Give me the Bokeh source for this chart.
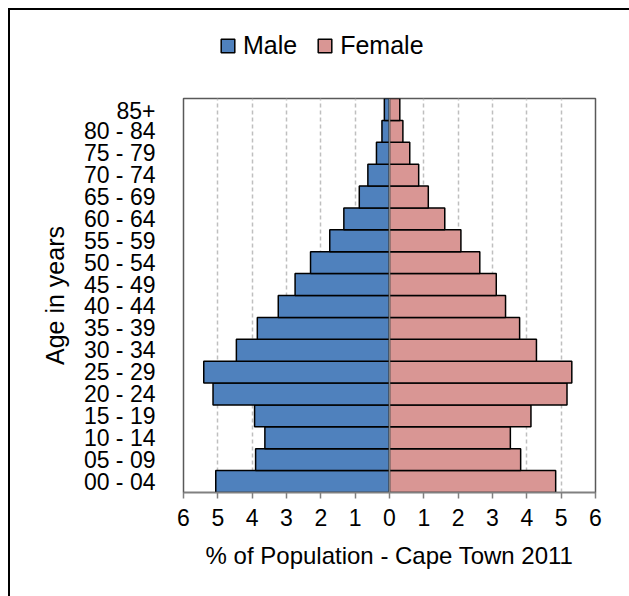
from bokeh.plotting import figure
from bokeh.layouts import column
from bokeh.models import (FactorRange, FixedTicker, CustomJSTickFormatter, Legend,
                          LegendItem, Span, ColumnDataSource)
from bokeh.embed import file_html
from bokeh.resources import INLINE

age_groups = ["00 - 04", "05 - 09", "10 - 14", "15 - 19", "20 - 24", "25 - 29",
              "30 - 34", "35 - 39", "40 - 44", "45 - 49", "50 - 54", "55 - 59",
              "60 - 64", "65 - 69", "70 - 74", "75 - 79", "80 - 84", "85+"]
male = [5.06, 3.90, 3.63, 3.93, 5.14, 5.41, 4.46, 3.85, 3.24, 2.75, 2.30, 1.74,
        1.33, 0.88, 0.63, 0.38, 0.22, 0.15]
female = [4.84, 3.82, 3.52, 4.12, 5.17, 5.31, 4.28, 3.79, 3.38, 3.11, 2.63, 2.08,
          1.61, 1.13, 0.85, 0.59, 0.39, 0.30]
x_ticks = [-6, -5, -4, -3, -2, -1, 0, 1, 2, 3, 4, 5, 6]
series_names = ["Male", "Female"]
MALE_C = "#4F81BD"
FEMALE_C = "#D99694"

FONT = "Liberation Sans"

src = ColumnDataSource(dict(age=age_groups, male_left=[-v for v in male],
                            female=female, zero=[0] * len(age_groups)))

# ---- legend strip (top of chart area) ----
leg = figure(frame_width=619, frame_height=87, min_border=0,
             x_range=(0, 1), y_range=(0, 1),
             x_axis_type=None, y_axis_type=None,
             output_backend="svg", toolbar_location=None)
leg.outline_line_color = None
nan = float("nan")
lm = leg.hbar(y=[nan], left=[nan], right=[nan], height=1.0,
              fill_color=MALE_C, line_color="black", line_width=1.5)
lf = leg.hbar(y=[nan], left=[nan], right=[nan], height=1.0,
              fill_color=FEMALE_C, line_color="black", line_width=1.5)
legend = Legend(items=[LegendItem(label=series_names[0], renderers=[lm]),
                       LegendItem(label=series_names[1], renderers=[lf])],
                location=(209, 37), orientation="horizontal",
                glyph_width=17, glyph_height=17, label_standoff=7, spacing=19,
                padding=0, margin=0, border_line_color=None,
                background_fill_alpha=0,
                label_text_font=FONT, label_text_font_size="25px",
                label_text_color="black")
leg.add_layout(legend, "center")

# ---- main pyramid ----
p = figure(y_range=FactorRange(factors=age_groups), x_range=(-6, 6),
           frame_width=412, frame_height=394,
           min_border_left=173, min_border_top=1, min_border_right=34,
           min_border_bottom=104,
           output_backend="svg", toolbar_location=None)

r_m = p.hbar(y="age", left="male_left", right="zero", height=1.0, source=src,
             fill_color=MALE_C, line_color="black", line_width=1.5)
r_f = p.hbar(y="age", left="zero", right="female", height=1.0, source=src,
             fill_color=FEMALE_C, line_color="black", line_width=1.5)

p.add_layout(Span(location=0, dimension="height", line_color="#808080",
                  line_width=1.5))

p.outline_line_color = "#595959"
p.outline_line_width = 1.5

xa = p.xaxis[0]
xa.ticker = FixedTicker(ticks=x_ticks)
xa.formatter = CustomJSTickFormatter(code="return Math.abs(tick).toString();")
xa.axis_line_color = "#808080"
xa.axis_line_width = 1.5
xa.major_tick_line_color = "#808080"
xa.major_tick_line_width = 1.5
xa.major_tick_out = 6
xa.major_tick_in = 0
xa.minor_tick_line_color = None
xa.major_label_text_font = FONT
xa.major_label_text_font_size = "23px"
xa.major_label_text_color = "black"
xa.major_label_standoff = 10
xa.axis_label = "% of Population - Cape Town 2011"
xa.axis_label_text_font = FONT
xa.axis_label_text_font_size = "24px"
xa.axis_label_text_font_style = "normal"
xa.axis_label_text_color = "black"
xa.axis_label_standoff = 13

ya = p.yaxis[0]
ya.axis_line_color = None
ya.major_tick_line_color = None
ya.major_tick_out = 0
ya.major_tick_in = 0
ya.minor_tick_line_color = None
ya.major_label_text_font = FONT
ya.major_label_text_font_size = "23px"
ya.major_label_text_color = "black"
ya.major_label_standoff = 28
ya.axis_label = "Age in years"
ya.axis_label_text_font = FONT
ya.axis_label_text_font_size = "25px"
ya.axis_label_text_font_style = "normal"
ya.axis_label_text_color = "black"
ya.axis_label_standoff = 12

p.ygrid.grid_line_color = None
p.xgrid.ticker = FixedTicker(ticks=[-5, -4, -3, -2, -1, 1, 2, 3, 4, 5])
p.xgrid.grid_line_color = "#BFBFBF"
p.xgrid.grid_line_width = 1.5
p.xgrid.grid_line_dash = "4 3"

layout = column(leg, p, spacing=0,
                styles={"margin-left": "8px", "margin-top": "8px",
                        "border-left": "2px solid black",
                        "border-top": "2px solid black"})

open("out.html", "w").write(file_html(layout, INLINE))
